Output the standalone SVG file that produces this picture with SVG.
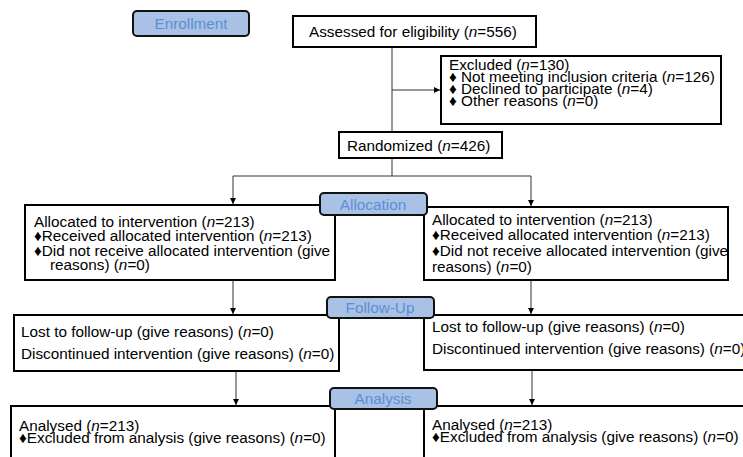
<svg xmlns="http://www.w3.org/2000/svg" width="743" height="457" viewBox="0 0 743 457">
<style>
text{font-family:"Liberation Sans",Arial,sans-serif;font-size:15.3px;fill:#000}
.box{fill:#fff;stroke:#000;stroke-width:2}
.lab{fill:#a9c1e5;stroke:#111;stroke-width:2}
.lt{fill:#5b8fd3;text-anchor:middle}
.ln{fill:none;stroke:#333;stroke-width:1}
tspan.i{font-style:italic}
</style>
<defs>
<marker id="ah" markerWidth="8" markerHeight="8" refX="6" refY="3" orient="auto" markerUnits="userSpaceOnUse">
<path d="M0,0 L6,3 L0,6 Z" fill="#000"/>
</marker>
</defs>
<rect width="743" height="457" fill="#fff"/>
<g id="connectors">
<path class="ln" d="M392,47 V132"/>
<path class="ln" d="M392,90 H440" marker-end="url(#ah)"/>
<path class="ln" d="M392,158 V176"/>
<path class="ln" d="M233,176 H531"/>
<path class="ln" d="M233,176 V204" marker-end="url(#ah)"/>
<path class="ln" d="M531,176 V206" marker-end="url(#ah)"/>
<path class="ln" d="M233,280 V314" marker-end="url(#ah)"/>
<path class="ln" d="M531,280 V314" marker-end="url(#ah)"/>
<path class="ln" d="M236,371 V405" marker-end="url(#ah)"/>
<path class="ln" d="M532,370 V405" marker-end="url(#ah)"/>
</g>
<g id="enrollment">
<rect class="lab" x="133" y="11" width="116" height="25" rx="4"/>
<text class="lt" x="191" y="29">Enrollment</text>
</g>
<g id="assessed">
<rect class="box" x="293" y="16" width="243" height="31"/>
<text x="309" y="37">Assessed for eligibility (<tspan class="i">n</tspan>=556)</text>
</g>
<g id="excluded">
<rect class="box" x="441" y="56" width="280" height="68"/>
<text x="449" y="70">Excluded (<tspan class="i">n</tspan>=130)</text>
<text x="449" y="82">♦ Not meeting inclusion criteria (<tspan class="i">n</tspan>=126)</text>
<text x="449" y="94">♦ Declined to participate (<tspan class="i">n</tspan>=4)</text>
<text x="449" y="106">♦ Other reasons (<tspan class="i">n</tspan>=0)</text>
</g>
<g id="randomized">
<rect class="box" x="339" y="132" width="163" height="26"/>
<text x="347" y="151">Randomized (<tspan class="i">n</tspan>=426)</text>
</g>
<g id="alloc-left">
<rect class="box" x="25" y="205" width="310" height="75"/>
<text x="34" y="227">Allocated to intervention (<tspan class="i">n</tspan>=213)</text>
<text x="34" y="241">♦Received allocated intervention (<tspan class="i">n</tspan>=213)</text>
<text x="34" y="256">♦Did not receive allocated intervention (give</text>
<text x="50" y="270">reasons) (<tspan class="i">n</tspan>=0)</text>
</g>
<g id="alloc-right">
<rect class="box" x="424" y="207" width="304" height="73"/>
<text x="432" y="225">Allocated to intervention (<tspan class="i">n</tspan>=213)</text>
<text x="432" y="240">♦Received allocated intervention (<tspan class="i">n</tspan>=213)</text>
<text x="432" y="256">♦Did not receive allocated intervention (give</text>
<text x="432" y="272">reasons) (<tspan class="i">n</tspan>=0)</text>
</g>
<g id="allocation">
<rect class="lab" x="320" y="193" width="107" height="22" rx="4"/>
<text class="lt" x="373" y="210">Allocation</text>
</g>
<g id="follow-left">
<rect class="box" x="14" y="315" width="325" height="56"/>
<text x="21" y="337">Lost to follow-up (give reasons) (<tspan class="i">n</tspan>=0)</text>
<text x="21" y="359">Discontinued intervention (give reasons) (<tspan class="i">n</tspan>=0)</text>
</g>
<g id="follow-right">
<rect class="box" x="424" y="315" width="330" height="55"/>
<text x="432" y="332">Lost to follow-up (give reasons) (<tspan class="i">n</tspan>=0)</text>
<text x="432" y="354">Discontinued intervention (give reasons) (<tspan class="i">n</tspan>=0)</text>
</g>
<g id="followup">
<rect class="lab" x="327" y="297" width="107" height="21" rx="4"/>
<text class="lt" x="380" y="313">Follow-Up</text>
</g>
<g id="analysis-left">
<rect class="box" x="11" y="406" width="324" height="70"/>
<text x="19" y="431">Analysed (<tspan class="i">n</tspan>=213)</text>
<text x="19" y="443">♦Excluded from analysis (give reasons) (<tspan class="i">n</tspan>=0)</text>
</g>
<g id="analysis-right">
<rect class="box" x="424" y="406" width="330" height="70"/>
<text x="432" y="430">Analysed (<tspan class="i">n</tspan>=213)</text>
<text x="432" y="442">♦Excluded from analysis (give reasons) (<tspan class="i">n</tspan>=0)</text>
</g>
<g id="analysis">
<rect class="lab" x="330" y="388" width="107" height="21" rx="4"/>
<text class="lt" x="383" y="404">Analysis</text>
</g>
</svg>
